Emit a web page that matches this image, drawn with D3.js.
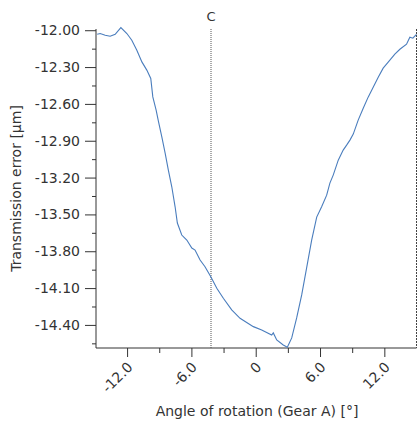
<!DOCTYPE html>
<html>
<head>
<meta charset="utf-8">
<script src="https://cdn.jsdelivr.net/npm/d3@7"></script>
<style>
  body { margin: 0; background: #fff; }
  svg { display: block; }
  text { font-family: "DejaVu Sans", sans-serif; fill: #333; }
</style>
</head>
<body>
<div id="chart"></div>
<script>
// angle of rotation [deg] and transmission error [um]
var angle = [-14.79, -14.51, -14.04, -13.58, -13.11, -12.58, -12.02, -11.56, -11.09, -10.62,
    -10.16, -9.79, -9.60, -9.29, -9.08, -8.76, -8.45, -8.15, -7.83, -7.52,
    -7.31, -6.90, -6.43, -5.96, -5.66, -5.19, -4.73, -4.19, -3.63, -3.02,
    -2.24, -1.46, -0.22, 0.56, 1.49, 1.64, 1.96, 2.57, 2.95, 3.36,
    3.82, 4.29, 4.75, 5.22, 5.69, 6.15, 6.62, 6.92, 7.23, 7.70,
    8.16, 8.48, 8.79, 9.10, 9.56, 10.03, 10.49, 10.96, 11.43, 11.89,
    12.36, 12.98, 13.45, 14.07, 14.38, 14.66, 15.0];
var error = [-12.033, -12.027, -12.041, -12.049, -12.033, -11.978, -12.027, -12.081, -12.163, -12.258,
    -12.325, -12.393, -12.543, -12.651, -12.740, -12.868, -13.001, -13.139, -13.275, -13.438,
    -13.570, -13.668, -13.709, -13.774, -13.790, -13.871, -13.926, -14.007, -14.102, -14.183,
    -14.278, -14.346, -14.414, -14.441, -14.482, -14.465, -14.522, -14.563, -14.582, -14.506,
    -14.343, -14.156, -13.936, -13.709, -13.522, -13.438, -13.343, -13.245, -13.180, -13.058,
    -12.976, -12.936, -12.895, -12.846, -12.732, -12.635, -12.545, -12.464, -12.382, -12.309,
    -12.260, -12.195, -12.155, -12.114, -12.057, -12.065, -12.033];

var yTicks = [-12.0, -12.3, -12.6, -12.9, -13.2, -13.5, -13.8, -14.1, -14.4];
var yMinor = [-12.15, -12.45, -12.75, -13.05, -13.35, -13.65, -13.95, -14.25, -14.55];
var xTicks = [-12, -6, 0, 6, 12];
var xMinor = [-9, -3, 3, 9];
var markerC = -4.17;

var width = 418, height = 425;
var mLeft = 96, mRight = 416.5, mTop = 29, mBottom = 348;

var x = d3.scaleLinear().domain([-14.9, 15.0]).range([mLeft, mRight]);
var y = d3.scaleLinear().domain([-14.588, -11.99]).range([mBottom, mTop]);

// plain hyphen for the minus sign, as in the reference
function fmt(p) {
    return function (d) {
        if (d === 0) return "0";
        return d3.format("." + p + "f")(d).replace("\u2212", "-");
    };
}

var svg = d3.select("#chart").append("svg")
    .attr("width", width)
    .attr("height", height);

// y axis
var gy = svg.append("g").attr("transform", "translate(" + mLeft + ",0)")
    .call(d3.axisLeft(y).tickValues(yTicks).tickSize(11).tickPadding(5).tickFormat(fmt(2)));
var gy2 = svg.append("g").attr("transform", "translate(" + mLeft + ",0)")
    .call(d3.axisLeft(y).tickValues(yMinor).tickSize(4).tickFormat(""));
gy2.select(".domain").remove();
gy.select(".domain").attr("stroke", "#333").attr("d", "M0," + mTop + "V" + mBottom);
svg.selectAll("line").attr("stroke", "#333");
gy.selectAll("text").attr("font-size", 14).attr("font-family", "DejaVu Sans").attr("fill", "#333");

// x axis
var gx = svg.append("g").attr("transform", "translate(0," + mBottom + ")")
    .call(d3.axisBottom(x).tickValues(xTicks).tickSize(9).tickFormat(fmt(1)));
var gx2 = svg.append("g").attr("transform", "translate(0," + mBottom + ")")
    .call(d3.axisBottom(x).tickValues(xMinor).tickSize(5).tickFormat(""));
gx2.select(".domain").remove();
gx.select(".domain").attr("stroke", "#333").attr("d", "M" + mLeft + ",0H" + mRight);
gx.selectAll("line").attr("stroke", "#333");
gx2.selectAll("line").attr("stroke", "#333");
gx.selectAll("text")
    .attr("font-size", 14).attr("font-family", "DejaVu Sans").attr("fill", "#333")
    .attr("text-anchor", "end")
    .attr("dy", null)
    .attr("y", null)
    .attr("transform", "translate(6,20) rotate(-45)");

// right border
svg.append("line")
    .attr("x1", mRight).attr("x2", mRight)
    .attr("y1", mTop).attr("y2", mBottom)
    .attr("stroke", "#444")
    .attr("stroke-dasharray", "2,1");

// marker C
svg.append("line")
    .attr("x1", x(markerC)).attr("x2", x(markerC))
    .attr("y1", mTop).attr("y2", mBottom)
    .attr("stroke", "#555")
    .attr("stroke-dasharray", "1,1");
svg.append("text")
    .attr("x", x(markerC)).attr("y", 21)
    .attr("text-anchor", "middle")
    .attr("font-size", 13)
    .text("C");

// curve
var line = d3.line()
    .x(function (d, i) { return x(angle[i]); })
    .y(function (d, i) { return y(error[i]); });
svg.append("path")
    .datum(error)
    .attr("d", line)
    .attr("fill", "none")
    .attr("stroke", "#4a7dbd")
    .attr("stroke-width", 1.1);

// titles
svg.append("text")
    .attr("x", 257).attr("y", 416)
    .attr("text-anchor", "middle")
    .attr("font-size", 14)
    .text("Angle of rotation (Gear A) [°]");
svg.append("text")
    .attr("transform", "translate(21," + ((mTop + mBottom) / 2) + ") rotate(-90)")
    .attr("text-anchor", "middle")
    .attr("font-size", 14)
    .text("Transmission error [μm]");
</script>
</body>
</html>
